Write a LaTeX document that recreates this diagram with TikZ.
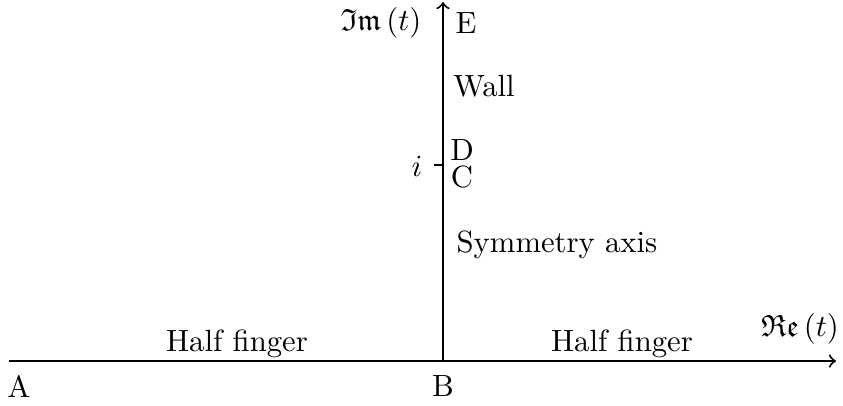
\documentclass[tikz,border=0pt]{standalone}
\usepackage{amssymb}
\begin{document}
\begin{tikzpicture}[x=0.3257pt,y=-0.3257pt,
  axis/.style={line width=0.65pt,-to},
  lbl/.style={inner sep=0pt,font=\fontsize{10}{12}\selectfont}]
\useasboundingbox (0,0) rectangle (843,405);
\coordinate (A0) at (9,361);
\coordinate (Xend) at (836,361);
\coordinate (B0) at (443,361);
\coordinate (Yend) at (443,2);
\coordinate (Ti) at (434,165);
\coordinate (Tc) at (443,165);
\draw[axis] (A0) -- (Xend);
\draw[axis] (B0) -- (Yend);
\draw[line width=0.65pt] (Ti) -- (Tc);
\node[lbl] (im) at (381,23) {$\mathfrak{Im}\,(t)$};
\node[lbl] (E) at (466,23) {E};
\node[lbl] (wall) at (484,86) {Wall};
\node[lbl] (i) at (417,166) {$i$};
\node[lbl] (D) at (462,150) {D};
\node[lbl] (C) at (462,177) {C};
\node[lbl] (sym) at (557,245) {Symmetry axis};
\node[lbl] (hf1) at (237,344) {Half finger};
\node[lbl] (hf2) at (622,344) {Half finger};
\node[lbl] (re) at (800,329) {$\mathfrak{Re}\,(t)$};
\node[lbl] (A) at (19,386) {A};
\node[lbl] (B) at (443,386) {B};
\end{tikzpicture}
\end{document}
